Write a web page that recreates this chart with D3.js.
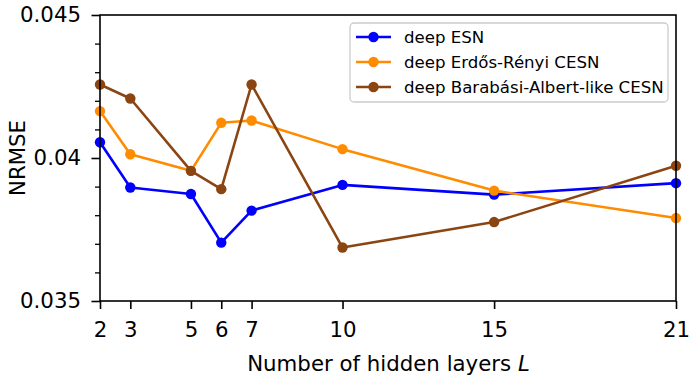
<!DOCTYPE html>
<html><head><meta charset="utf-8">
<script src="https://cdn.jsdelivr.net/npm/d3@7"></script>
<style>body{margin:0;background:#fff}svg{display:block}text{font-family:"DejaVu Sans",sans-serif}</style>
</head><body>
<svg id="c" width="689" height="377"></svg>
<script>
const layers = [2, 3, 5, 6, 7, 10, 15, 21];
const deepESN = [0.04055, 0.03897, 0.03874, 0.03704, 0.03816, 0.03906, 0.03872, 0.03912];
const erdosRenyi = [0.04164, 0.04013, 0.03955, 0.04123, 0.04131, 0.04031, 0.03886, 0.03790];
const barabasi = [0.04257, 0.04208, 0.03955, 0.03891, 0.04257, 0.03687, 0.03776, 0.03973];
const seriesNames = ["deep ESN", "deep Erdős-Rényi CESN", "deep Barabási-Albert-like CESN"];
const seriesColors = ["#0000ff", "#ff8c00", "#8b4513"];
const yTicks = [0.035, 0.04, 0.045];
const yTickLabels = ["0.035", "0.04", "0.045"];
const yMinorTicks = [0.036, 0.037, 0.038, 0.039, 0.041, 0.042, 0.043, 0.044];
const xLabel = "Number of hidden layers ";
const yLabel = "NRMSE";

const svg = d3.select("#c");
const L = 100, R = 676, T = 15, B = 301;
const FS = 21.3;
const x = d3.scaleLinear().domain([2, 21]).range([L, R]);
const y = d3.scaleLinear().domain([0.035, 0.045]).range([B, T]);

const allSeries = [deepESN, erdosRenyi, barabasi];
const line = d3.line().x((d, i) => x(layers[i])).y(d => y(d));

allSeries.forEach((s, k) => {
  svg.append("path").datum(s).attr("d", line)
    .attr("fill", "none").attr("stroke", seriesColors[k]).attr("stroke-width", 2.6)
    .attr("stroke-linejoin", "round");
  svg.selectAll(null).data(s).enter().append("circle")
    .attr("cx", (d, i) => x(layers[i])).attr("cy", d => y(d)).attr("r", 5.2)
    .attr("fill", seriesColors[k]);
});

// frame
svg.append("rect").attr("x", L).attr("y", T).attr("width", R - L).attr("height", B - T)
  .attr("fill", "none").attr("stroke", "#000").attr("stroke-width", 1.6);

// x axis
const xa = svg.append("g").attr("transform", `translate(0,${B})`)
  .call(d3.axisBottom(x).tickValues(layers).tickFormat(d3.format("d")).tickSize(8).tickPadding(13));
xa.select(".domain").remove();
xa.selectAll("line").attr("stroke-width", 1.6);
xa.selectAll("text").attr("font-size", FS).attr("font-family", "DejaVu Sans").attr("fill", "#000");

// y axis
const ya = svg.append("g").attr("transform", `translate(${L},0)`)
  .call(d3.axisLeft(y).tickValues(yTicks).tickFormat((d, i) => yTickLabels[i]).tickSize(8.5).tickPadding(10.5));
ya.select(".domain").remove();
ya.selectAll("line").attr("stroke-width", 1.6);
ya.selectAll("text").attr("font-size", FS).attr("font-family", "DejaVu Sans").attr("fill", "#000");
const ym = svg.append("g").attr("transform", `translate(${L},0)`)
  .call(d3.axisLeft(y).tickValues(yMinorTicks).tickFormat("").tickSize(5));
ym.select(".domain").remove();
ym.selectAll("line").attr("stroke-width", 1.3);

// axis labels
const xt = svg.append("text").attr("x", (L + R) / 2 + 0.5).attr("y", 370.5).attr("text-anchor", "middle")
  .attr("font-size", FS).attr("fill", "#000");
xt.append("tspan").text(xLabel);
xt.append("tspan").attr("font-style", "oblique").text("L");
svg.append("text").attr("transform", `translate(24.5,${(T + B) / 2}) rotate(-90)`)
  .attr("text-anchor", "middle").attr("font-size", FS).attr("fill", "#000").text(yLabel);

// legend
const lg = svg.append("g");
lg.append("rect").attr("x", 350).attr("y", 23).attr("width", 318).attr("height", 79).attr("rx", 4)
  .attr("fill", "#fff").attr("fill-opacity", 0.8).attr("stroke", "#cccccc").attr("stroke-width", 1.3);
seriesNames.forEach((n, k) => {
  const yy = 37 + k * 25;
  lg.append("line").attr("x1", 356).attr("x2", 391).attr("y1", yy).attr("y2", yy)
    .attr("stroke", seriesColors[k]).attr("stroke-width", 2.6);
  lg.append("circle").attr("cx", 373.5).attr("cy", yy).attr("r", 5.2).attr("fill", seriesColors[k]);
  lg.append("text").attr("x", 404).attr("y", yy).attr("dy", "0.35em").attr("font-size", 16.6)
    .attr("fill", "#000").text(n);
});
</script>
</body></html>
